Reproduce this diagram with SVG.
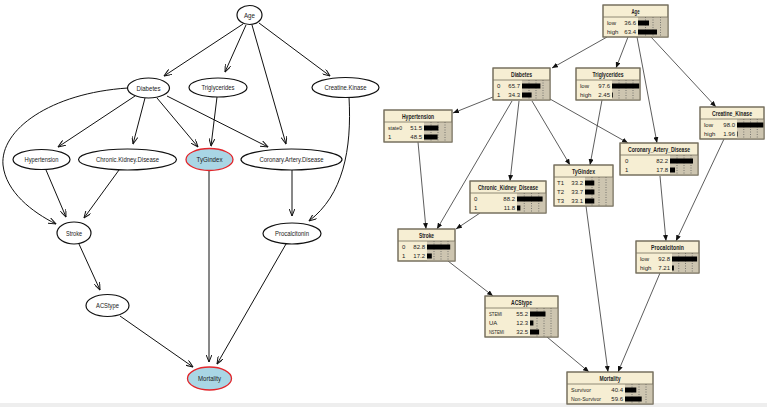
<svg xmlns="http://www.w3.org/2000/svg" width="767" height="407" viewBox="0 0 767 407">
<style>
.el{fill:#fff;stroke:#111;stroke-width:1.2}
.hl{fill:#a9d6e5;stroke:#e3262b;stroke-width:1.3}
.lt{font-family:"Liberation Sans",Arial,sans-serif;font-size:7.5px;fill:#222;text-anchor:middle}
.e{fill:none;stroke:#111;stroke-width:1}
.r{fill:none;stroke:#333;stroke-width:0.8}
.box{fill:#f6eed3;stroke:#77705e;stroke-width:1}
.sep{stroke:#77705e;stroke-width:0.8}
.ba{fill:#cdc5b0}
.bar{fill:#000}
.dot{stroke:#555;stroke-width:0.7;stroke-dasharray:1 1.5}
.tt{font-family:"Liberation Sans",Arial,sans-serif;font-size:6.5px;font-weight:bold;fill:#222;text-anchor:middle}
.st{font-family:"Liberation Sans",Arial,sans-serif;font-size:6px;fill:#222}
.va{font-family:"Liberation Sans",Arial,sans-serif;font-size:6px;fill:#222;text-anchor:end}
</style>
<defs>
<marker id="oa" viewBox="0 0 8 6" refX="7.5" refY="3" markerWidth="8" markerHeight="6" markerUnits="userSpaceOnUse" orient="auto">
<path d="M0,0 L7.5,3 L0,6" fill="none" stroke="#111" stroke-width="1"/>
</marker>
<marker id="fa" viewBox="0 0 6 5" refX="6" refY="2.5" markerWidth="6" markerHeight="5" markerUnits="userSpaceOnUse" orient="auto">
<path d="M0,0 L6,2.5 L0,5 Z" fill="#111"/>
</marker>
</defs>
<rect x="0" y="0" width="767" height="407" fill="#fff"/>
<rect x="0" y="403" width="767" height="4" fill="#eeeeee"/>

<!-- LEFT GRAPH connectors -->
<g id="left-edges">
<line class="e" x1="243" y1="24" x2="164" y2="76" marker-end="url(#oa)"/>
<line class="e" x1="246" y1="25" x2="225" y2="72" marker-end="url(#oa)"/>
<line class="e" x1="252" y1="25" x2="286" y2="144" marker-end="url(#oa)"/>
<line class="e" x1="259" y1="23" x2="330" y2="76" marker-end="url(#oa)"/>
<line class="e" x1="135" y1="96" x2="58" y2="147" marker-end="url(#oa)"/>
<line class="e" x1="145" y1="98" x2="133" y2="144" marker-end="url(#oa)"/>
<line class="e" x1="157" y1="98" x2="198" y2="147" marker-end="url(#oa)"/>
<line class="e" x1="167" y1="96" x2="268" y2="147" marker-end="url(#oa)"/>
<path class="e" d="M128,88 C50,93 0,130 3,165 C6,192 32,212 56,224" marker-end="url(#oa)"/>
<line class="e" x1="217" y1="97" x2="211" y2="146" marker-end="url(#oa)"/>
<path class="e" d="M349,97 C352,150 343,195 309,221" marker-end="url(#oa)"/>
<line class="e" x1="46" y1="170" x2="66" y2="217" marker-end="url(#oa)"/>
<line class="e" x1="119" y1="170" x2="84" y2="218" marker-end="url(#oa)"/>
<line class="e" x1="209" y1="171" x2="209" y2="362" marker-end="url(#oa)"/>
<line class="e" x1="292" y1="170" x2="292" y2="216" marker-end="url(#oa)"/>
<line class="e" x1="79" y1="244" x2="100" y2="290" marker-end="url(#oa)"/>
<line class="e" x1="120" y1="316" x2="193" y2="367" marker-end="url(#oa)"/>
<line class="e" x1="286" y1="244" x2="217" y2="364" marker-end="url(#oa)"/>
</g>

<!-- LEFT GRAPH nodes -->
<g id="l-age"><ellipse class="el" cx="249.5" cy="15" rx="12.5" ry="9.5"/><text class="lt" x="249.5" y="17.7" textLength="11" lengthAdjust="spacingAndGlyphs">Age</text></g>
<g id="l-diabetes"><ellipse class="el" cx="148.5" cy="88" rx="21" ry="10"/><text class="lt" x="148.5" y="90.7" textLength="24" lengthAdjust="spacingAndGlyphs">Diabetes</text></g>
<g id="l-triglycerides"><ellipse class="el" cx="218" cy="87.5" rx="29" ry="9.5"/><text class="lt" x="218" y="90.2" textLength="33" lengthAdjust="spacingAndGlyphs">Triglycerides</text></g>
<g id="l-creatine"><ellipse class="el" cx="345.5" cy="87.5" rx="33.5" ry="10"/><text class="lt" x="345.5" y="90.2" textLength="42" lengthAdjust="spacingAndGlyphs">Creatine.Kinase</text></g>
<g id="l-hypertension"><ellipse class="el" cx="41.5" cy="159.5" rx="28.5" ry="10"/><text class="lt" x="41.5" y="162.2" textLength="34" lengthAdjust="spacingAndGlyphs">Hypertension</text></g>
<g id="l-ckd"><ellipse class="el" cx="127.5" cy="159.5" rx="49" ry="10.5"/><text class="lt" x="127.5" y="162.2" textLength="63" lengthAdjust="spacingAndGlyphs">Chronic.Kidney.Disease</text></g>
<g id="l-tyg"><ellipse class="hl" cx="209.5" cy="159.5" rx="23.5" ry="11"/><text class="lt" x="209.5" y="162.2" textLength="26" lengthAdjust="spacingAndGlyphs">TyGindex</text></g>
<g id="l-cad"><ellipse class="el" cx="291.5" cy="159.5" rx="50.5" ry="10.5"/><text class="lt" x="291.5" y="162.2" textLength="64" lengthAdjust="spacingAndGlyphs">Coronary.Artery.Disease</text></g>
<g id="l-stroke"><ellipse class="el" cx="74" cy="233" rx="17" ry="11"/><text class="lt" x="74" y="235.7" textLength="16" lengthAdjust="spacingAndGlyphs">Stroke</text></g>
<g id="l-procalcitonin"><ellipse class="el" cx="292" cy="233.5" rx="29" ry="10.5"/><text class="lt" x="292" y="236.2" textLength="34" lengthAdjust="spacingAndGlyphs">Procalcitonin</text></g>
<g id="l-acstype"><ellipse class="el" cx="107.5" cy="305.5" rx="21.5" ry="11"/><text class="lt" x="107.5" y="308.2" textLength="23" lengthAdjust="spacingAndGlyphs">ACStype</text></g>
<g id="l-mortality"><ellipse class="hl" cx="209.5" cy="378.5" rx="22" ry="11.5"/><text class="lt" x="209.5" y="381.2" textLength="23" lengthAdjust="spacingAndGlyphs">Mortality</text></g>

<!-- RIGHT GRAPH connectors -->
<g id="right-edges">
<line class="r" x1="607" y1="37" x2="552" y2="68" marker-end="url(#fa)"/>
<line class="r" x1="628" y1="37" x2="616" y2="68" marker-end="url(#fa)"/>
<line class="r" x1="637" y1="37" x2="657" y2="143" marker-end="url(#fa)"/>
<line class="r" x1="651" y1="37" x2="716" y2="107" marker-end="url(#fa)"/>
<line class="r" x1="493" y1="97" x2="453" y2="113" marker-end="url(#fa)"/>
<line class="r" x1="512" y1="101" x2="437" y2="229" marker-end="url(#fa)"/>
<line class="r" x1="519" y1="101" x2="510" y2="181" marker-end="url(#fa)"/>
<line class="r" x1="532" y1="101" x2="570" y2="165" marker-end="url(#fa)"/>
<line class="r" x1="550" y1="99" x2="628" y2="143" marker-end="url(#fa)"/>
<line class="r" x1="602" y1="100" x2="590" y2="165" marker-end="url(#fa)"/>
<line class="r" x1="418" y1="142" x2="426" y2="229" marker-end="url(#fa)"/>
<line class="r" x1="480" y1="213" x2="456" y2="229" marker-end="url(#fa)"/>
<line class="r" x1="660" y1="176" x2="666" y2="241" marker-end="url(#fa)"/>
<line class="r" x1="724" y1="139" x2="676" y2="241" marker-end="url(#fa)"/>
<line class="r" x1="448" y1="261" x2="493" y2="296" marker-end="url(#fa)"/>
<line class="r" x1="547" y1="337" x2="589" y2="372" marker-end="url(#fa)"/>
<line class="r" x1="586" y1="206" x2="608" y2="372" marker-end="url(#fa)"/>
<line class="r" x1="660" y1="273" x2="618" y2="372" marker-end="url(#fa)"/>
</g>

<!-- RIGHT GRAPH nodes -->
<g id="r-age">
<rect class="box" x="603" y="5" width="65" height="32"/><rect class="ba" x="638" y="17" width="30" height="20"/>
<line class="dot" x1="645.5" y1="17" x2="645.5" y2="37"/><line class="dot" x1="653" y1="17" x2="653" y2="37"/><line class="dot" x1="660.5" y1="17" x2="660.5" y2="37"/>
<rect class="bar" x="638" y="20.5" width="11" height="5"/><rect class="bar" x="638" y="29.5" width="19" height="5"/>
<line class="sep" x1="603" y1="17" x2="668" y2="17"/><rect x="603" y="5" width="65" height="32" fill="none" stroke="#77705e"/>
<text class="tt" x="635.5" y="13.5" textLength="8" lengthAdjust="spacingAndGlyphs">Age</text>
<text class="st" x="607" y="25.3">low</text><text class="va" x="636" y="25.3">36.6</text>
<text class="st" x="607" y="34.3">high</text><text class="va" x="636" y="34.3">63.4</text>
</g>

<g id="r-diabetes">
<rect class="box" x="493" y="68" width="57" height="32"/><rect class="ba" x="522" y="80" width="28" height="20"/>
<line class="dot" x1="529" y1="80" x2="529" y2="100"/><line class="dot" x1="536" y1="80" x2="536" y2="100"/><line class="dot" x1="543" y1="80" x2="543" y2="100"/>
<rect class="bar" x="522" y="83.5" width="18.4" height="5"/><rect class="bar" x="522" y="92.5" width="9.6" height="5"/>
<line class="sep" x1="493" y1="80" x2="550" y2="80"/><rect x="493" y="68" width="57" height="32" fill="none" stroke="#77705e"/>
<text class="tt" x="521.5" y="76.5" textLength="21" lengthAdjust="spacingAndGlyphs">Diabetes</text>
<text class="st" x="497" y="88.3">0</text><text class="va" x="520" y="88.3">65.7</text>
<text class="st" x="497" y="97.3">1</text><text class="va" x="520" y="97.3">34.3</text>
</g>

<g id="r-triglycerides">
<rect class="box" x="576" y="68" width="64" height="32"/><rect class="ba" x="612" y="80" width="28" height="20"/>
<line class="dot" x1="619" y1="80" x2="619" y2="100"/><line class="dot" x1="626" y1="80" x2="626" y2="100"/><line class="dot" x1="633" y1="80" x2="633" y2="100"/>
<rect class="bar" x="612" y="83.5" width="27.3" height="5"/><rect class="bar" x="612" y="92.5" width="0.8" height="5"/>
<line class="sep" x1="576" y1="80" x2="640" y2="80"/><rect x="576" y="68" width="64" height="32" fill="none" stroke="#77705e"/>
<text class="tt" x="608" y="76.5" textLength="31" lengthAdjust="spacingAndGlyphs">Triglycerides</text>
<text class="st" x="580" y="88.3">low</text><text class="va" x="610" y="88.3">97.6</text>
<text class="st" x="580" y="97.3">high</text><text class="va" x="610" y="97.3">2.45</text>
</g>

<g id="r-creatine">
<rect class="box" x="700" y="107" width="64" height="32"/><rect class="ba" x="737" y="119" width="27" height="20"/>
<line class="dot" x1="743.75" y1="119" x2="743.75" y2="139"/><line class="dot" x1="750.5" y1="119" x2="750.5" y2="139"/><line class="dot" x1="757.25" y1="119" x2="757.25" y2="139"/>
<rect class="bar" x="737" y="122.5" width="26.5" height="5"/><rect class="bar" x="737" y="131.5" width="0.6" height="5"/>
<line class="sep" x1="700" y1="119" x2="764" y2="119"/><rect x="700" y="107" width="64" height="32" fill="none" stroke="#77705e"/>
<text class="tt" x="732" y="115.5" textLength="40" lengthAdjust="spacingAndGlyphs">Creatine_Kinase</text>
<text class="st" x="704" y="127.3">low</text><text class="va" x="735" y="127.3">98.0</text>
<text class="st" x="704" y="136.3">high</text><text class="va" x="735" y="136.3">1.96</text>
</g>

<g id="r-hypertension">
<rect class="box" x="384" y="110" width="68" height="32"/><rect class="ba" x="424" y="122" width="28" height="20"/>
<line class="dot" x1="431" y1="122" x2="431" y2="142"/><line class="dot" x1="438" y1="122" x2="438" y2="142"/><line class="dot" x1="445" y1="122" x2="445" y2="142"/>
<rect class="bar" x="424" y="125.5" width="14.4" height="5"/><rect class="bar" x="424" y="134.5" width="13.6" height="5"/>
<line class="sep" x1="384" y1="122" x2="452" y2="122"/><rect x="384" y="110" width="68" height="32" fill="none" stroke="#77705e"/>
<text class="tt" x="418" y="118.5" textLength="32" lengthAdjust="spacingAndGlyphs">Hypertension</text>
<text class="st" x="388" y="130.3" textLength="14" lengthAdjust="spacingAndGlyphs">state0</text><text class="va" x="422" y="130.3">51.5</text>
<text class="st" x="388" y="139.3">1</text><text class="va" x="422" y="139.3">48.5</text>
</g>

<g id="r-ckd">
<rect class="box" x="470" y="181" width="76" height="32"/><rect class="ba" x="517" y="193" width="29" height="20"/>
<line class="dot" x1="524.25" y1="193" x2="524.25" y2="213"/><line class="dot" x1="531.5" y1="193" x2="531.5" y2="213"/><line class="dot" x1="538.75" y1="193" x2="538.75" y2="213"/>
<rect class="bar" x="517" y="196.5" width="25.6" height="5"/><rect class="bar" x="517" y="205.5" width="3.4" height="5"/>
<line class="sep" x1="470" y1="193" x2="546" y2="193"/><rect x="470" y="181" width="76" height="32" fill="none" stroke="#77705e"/>
<text class="tt" x="508" y="189.5" textLength="60" lengthAdjust="spacingAndGlyphs">Chronic_Kidney_Disease</text>
<text class="st" x="474" y="201.3">0</text><text class="va" x="515" y="201.3">88.2</text>
<text class="st" x="474" y="210.3">1</text><text class="va" x="515" y="210.3">11.8</text>
</g>

<g id="r-tygindex">
<rect class="box" x="554" y="165" width="59" height="41"/><rect class="ba" x="585" y="177" width="28" height="29"/>
<line class="dot" x1="592" y1="177" x2="592" y2="206"/><line class="dot" x1="599" y1="177" x2="599" y2="206"/><line class="dot" x1="606" y1="177" x2="606" y2="206"/>
<rect class="bar" x="585" y="180.5" width="9.3" height="5"/><rect class="bar" x="585" y="189.5" width="9.4" height="5"/><rect class="bar" x="585" y="198.5" width="9.3" height="5"/>
<line class="sep" x1="554" y1="177" x2="613" y2="177"/><rect x="554" y="165" width="59" height="41" fill="none" stroke="#77705e"/>
<text class="tt" x="583.5" y="173.5" textLength="23" lengthAdjust="spacingAndGlyphs">TyGindex</text>
<text class="st" x="557" y="185.3">T1</text><text class="va" x="583" y="185.3">33.2</text>
<text class="st" x="557" y="194.3">T2</text><text class="va" x="583" y="194.3">33.7</text>
<text class="st" x="557" y="203.3">T3</text><text class="va" x="583" y="203.3">33.1</text>
</g>

<g id="r-cad">
<rect class="box" x="620" y="143" width="78" height="32"/><rect class="ba" x="670" y="155" width="28" height="20"/>
<line class="dot" x1="677" y1="155" x2="677" y2="175"/><line class="dot" x1="684" y1="155" x2="684" y2="175"/><line class="dot" x1="691" y1="155" x2="691" y2="175"/>
<rect class="bar" x="670" y="158.5" width="23" height="5"/><rect class="bar" x="670" y="167.5" width="5" height="5"/>
<line class="sep" x1="620" y1="155" x2="698" y2="155"/><rect x="620" y="143" width="78" height="32" fill="none" stroke="#77705e"/>
<text class="tt" x="659" y="151.5" textLength="62" lengthAdjust="spacingAndGlyphs">Coronary_Artery_Disease</text>
<text class="st" x="625" y="163.3">0</text><text class="va" x="668" y="163.3">82.2</text>
<text class="st" x="625" y="172.3">1</text><text class="va" x="668" y="172.3">17.8</text>
</g>

<g id="r-stroke">
<rect class="box" x="398" y="229" width="57" height="32"/><rect class="ba" x="427" y="241" width="28" height="20"/>
<line class="dot" x1="434" y1="241" x2="434" y2="261"/><line class="dot" x1="441" y1="241" x2="441" y2="261"/><line class="dot" x1="448" y1="241" x2="448" y2="261"/>
<rect class="bar" x="427" y="244.5" width="23.2" height="5"/><rect class="bar" x="427" y="253.5" width="4.8" height="5"/>
<line class="sep" x1="398" y1="241" x2="455" y2="241"/><rect x="398" y="229" width="57" height="32" fill="none" stroke="#77705e"/>
<text class="tt" x="426.5" y="237.5" textLength="15" lengthAdjust="spacingAndGlyphs">Stroke</text>
<text class="st" x="402" y="249.3">0</text><text class="va" x="425" y="249.3">82.8</text>
<text class="st" x="402" y="258.3">1</text><text class="va" x="425" y="258.3">17.2</text>
</g>

<g id="r-procalcitonin">
<rect class="box" x="636" y="241" width="63" height="32"/><rect class="ba" x="672" y="253" width="27" height="20"/>
<line class="dot" x1="678.75" y1="253" x2="678.75" y2="273"/><line class="dot" x1="685.5" y1="253" x2="685.5" y2="273"/><line class="dot" x1="692.25" y1="253" x2="692.25" y2="273"/>
<rect class="bar" x="672" y="256.5" width="25.1" height="5"/><rect class="bar" x="672" y="265.5" width="1.9" height="5"/>
<line class="sep" x1="636" y1="253" x2="699" y2="253"/><rect x="636" y="241" width="63" height="32" fill="none" stroke="#77705e"/>
<text class="tt" x="667.5" y="249.5" textLength="33" lengthAdjust="spacingAndGlyphs">Procalcitonin</text>
<text class="st" x="640" y="261.3">low</text><text class="va" x="670" y="261.3">92.8</text>
<text class="st" x="640" y="270.3">high</text><text class="va" x="670" y="270.3">7.21</text>
</g>

<g id="r-acstype">
<rect class="box" x="485" y="296" width="73" height="41"/><rect class="ba" x="530" y="308" width="28" height="29"/>
<line class="dot" x1="537" y1="308" x2="537" y2="337"/><line class="dot" x1="544" y1="308" x2="544" y2="337"/><line class="dot" x1="551" y1="308" x2="551" y2="337"/>
<rect class="bar" x="530" y="311.5" width="15.5" height="5"/><rect class="bar" x="530" y="320.5" width="3.4" height="5"/><rect class="bar" x="530" y="329.5" width="9.1" height="5"/>
<line class="sep" x1="485" y1="308" x2="558" y2="308"/><rect x="485" y="296" width="73" height="41" fill="none" stroke="#77705e"/>
<text class="tt" x="521.5" y="304.5" textLength="21" lengthAdjust="spacingAndGlyphs">ACStype</text>
<text class="st" x="489" y="316.3" textLength="13" lengthAdjust="spacingAndGlyphs">STEMI</text><text class="va" x="528" y="316.3">55.2</text>
<text class="st" x="489" y="325.3">UA</text><text class="va" x="528" y="325.3">12.3</text>
<text class="st" x="489" y="334.3" textLength="15" lengthAdjust="spacingAndGlyphs">NSTEMI</text><text class="va" x="528" y="334.3">32.5</text>
</g>

<g id="r-mortality">
<rect class="box" x="567" y="372" width="86" height="32"/><rect class="ba" x="625" y="384" width="28" height="20"/>
<line class="dot" x1="632" y1="384" x2="632" y2="404"/><line class="dot" x1="639" y1="384" x2="639" y2="404"/><line class="dot" x1="646" y1="384" x2="646" y2="404"/>
<rect class="bar" x="625" y="387.5" width="11.3" height="5"/><rect class="bar" x="625" y="396.5" width="16.7" height="5"/>
<line class="sep" x1="567" y1="384" x2="653" y2="384"/><rect x="567" y="372" width="86" height="32" fill="none" stroke="#77705e"/>
<text class="tt" x="610" y="380.5" textLength="21" lengthAdjust="spacingAndGlyphs">Mortality</text>
<text class="st" x="571" y="392.3" textLength="20" lengthAdjust="spacingAndGlyphs">Survivor</text><text class="va" x="623" y="392.3">40.4</text>
<text class="st" x="571" y="401.3" textLength="30" lengthAdjust="spacingAndGlyphs">Non-Survivor</text><text class="va" x="623" y="401.3">59.6</text>
</g>
</svg>
